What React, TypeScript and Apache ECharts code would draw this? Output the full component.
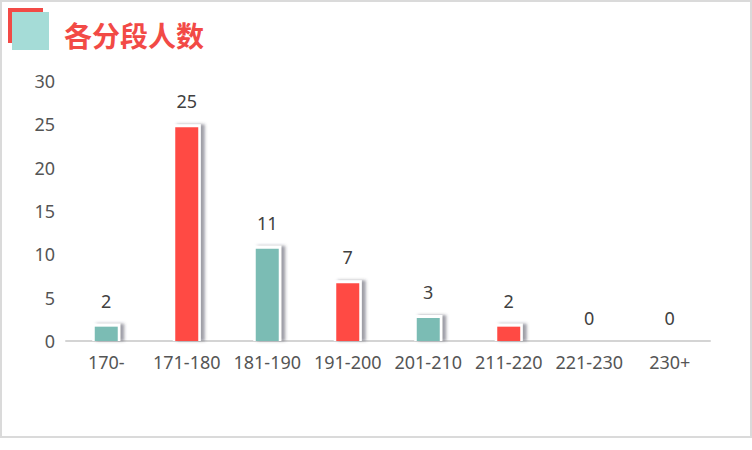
import React, { useEffect, useRef } from 'react';
import * as echarts from 'echarts';

const categories = ['170-', '171-180', '181-190', '191-200', '201-210', '211-220', '221-230', '230+'];
const counts = [2, 25, 11, 7, 3, 2, 0, 0];
const barColors = ['#7bbcb4', '#ff4a44'];
const title = '各分段人数';

const App: React.FC = () => {
  const chartRef = useRef<HTMLDivElement>(null);

  useEffect(() => {
    document.body.style.margin = '0';
    if (!chartRef.current) return;
    const chart = echarts.init(chartRef.current, null, { renderer: 'svg' });

    const font = '"Noto Sans", "Noto Sans CJK SC", sans-serif';

    // bar with white outline + soft shadow on the right, value label on top
    const renderBar = (params: any, api: any) => {
      const v = api.value(1);
      const base = api.coord([api.value(0), 0]);
      const top = api.coord([api.value(0), v]);
      const cx = base[0];
      const h = base[1] - top[1];
      const children: any[] = [];
      if (v > 0) {
        children.push({
          type: 'rect',
          shape: { x: cx - 14, y: top[1], width: 28, height: h },
          style: {
            fill: '#fff',
            shadowColor: 'rgba(60,60,80,0.5)',
            shadowBlur: 3,
            shadowOffsetX: 4,
            shadowOffsetY: 0
          }
        });
        children.push({
          type: 'rect',
          shape: { x: cx - 11.5, y: top[1] + 3, width: 23, height: Math.max(h - 3, 0) },
          style: { fill: barColors[params.dataIndex % 2] }
        });
      }
      children.push({
        type: 'text',
        x: cx,
        y: top[1] - 23,
        style: {
          text: String(v),
          fill: '#404040',
          font: `18px ${font}`,
          align: 'center',
          verticalAlign: 'middle'
        }
      });
      return { type: 'group', children };
    };

    chart.setOption({
      animation: false,
      backgroundColor: '#fff',
      graphic: [
        { type: 'rect', shape: { x: 6, y: 6, width: 35, height: 35 }, style: { fill: '#f24a46' } },
        { type: 'rect', shape: { x: 10, y: 10, width: 37, height: 38 }, style: { fill: '#a5dcd7' } },
        {
          type: 'text',
          x: 62,
          y: 33,
          style: {
            text: title,
            fill: '#f24a46',
            font: 'bold 28px "Noto Sans CJK SC", sans-serif',
            verticalAlign: 'middle'
          }
        }
      ],
      grid: { left: 64, right: 40, top: 79, bottom: 95 },
      xAxis: {
        type: 'category',
        data: categories,
        axisLine: { lineStyle: { color: '#d4d4d4', width: 2 } },
        axisTick: { show: false },
        axisLabel: { color: '#555', fontSize: 18, fontFamily: font, margin: 12, interval: 0 }
      },
      yAxis: {
        type: 'value',
        min: 0,
        max: 30,
        interval: 5,
        splitLine: { show: false },
        axisLine: { show: false },
        axisTick: { show: false },
        axisLabel: { color: '#555', fontSize: 18, fontFamily: font, margin: 11 }
      },
      series: [
        {
          type: 'custom',
          renderItem: renderBar,
          encode: { x: 0, y: 1 },
          data: counts.map((v, i) => [i, v])
        }
      ]
    });

    return () => {
      chart.dispose();
    };
  }, []);

  return (
    <div style={{ width: 752, height: 438, border: '2px solid #dadada', boxSizing: 'border-box' }}>
      <div ref={chartRef} style={{ width: 748, height: 434 }} />
    </div>
  );
};

export default App;
